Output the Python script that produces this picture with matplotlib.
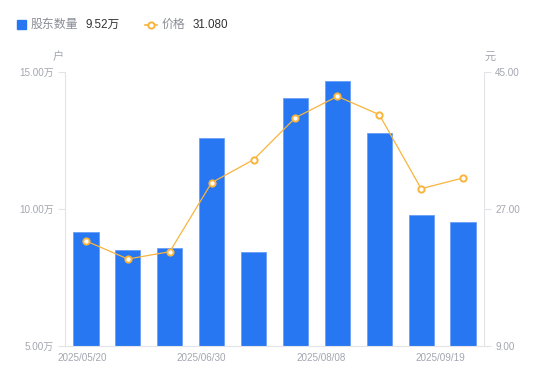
import matplotlib
matplotlib.use('Agg')
import matplotlib.pyplot as plt
import numpy as np

plt.rcParams['font.family'] = ['Liberation Sans', 'Noto Sans CJK SC', 'DejaVu Sans']

# data
holders = [9.16, 8.50, 8.57, 12.59, 8.42, 14.04, 14.67, 12.76, 9.77, 9.52]   # 万户
price = [22.8, 20.43, 21.39, 30.46, 33.48, 39.0, 41.8, 39.4, 29.67, 31.08]  # 元
xlabels = ['2025/05/20', '2025/06/30', '2025/08/08', '2025/09/19']
left_ticks = [5, 10, 15]
right_ticks = [9, 27, 45]

blue = '#2777f2'
orange = '#f9b43c'
grey = '#a3a6b0'
axcol = '#e3e4e8'

fig = plt.figure(figsize=(5.5, 3.81), dpi=100)
ax = fig.add_axes([65/550, 1 - 346/381, (484-65)/550, (346-72)/381])
x = np.arange(len(holders))
ax.bar(x, holders, width=0.6, color=blue, edgecolor='#6a9ff5', linewidth=0.6, zorder=2)
ax.set_xlim(-0.5, len(holders) - 0.5)
ax.set_ylim(5, 15)
ax.set_yticks(left_ticks)
ax.set_yticklabels(['%.2f万' % v for v in left_ticks])

ax2 = ax.twinx()
ax2.plot(x, price, color=orange, lw=0.9, marker='o', ms=4.5, mfc='white', mec=orange, mew=1.4, zorder=3)
ax2.set_ylim(9, 45)
ax2.set_yticks(right_ticks)
ax2.set_yticklabels(['%.2f' % v for v in right_ticks])

ax.set_xticks(np.linspace(-0.08, 8.45, 4))
ax.set_xticklabels(xlabels)

for a in (ax, ax2):
    for s in a.spines.values():
        s.set_visible(False)
    a.tick_params(colors=grey, labelsize=7.1, length=5, width=0.8, color=axcol)
ax.spines['left'].set_visible(True)
ax.spines['bottom'].set_visible(True)
ax2.spines['right'].set_visible(True)
ax.spines['left'].set_color(axcol)
ax.spines['bottom'].set_color(axcol)
ax2.spines['right'].set_color(axcol)
ax.tick_params(axis='x', length=0, pad=5)
ax.tick_params(axis='y', pad=3)
ax2.tick_params(axis='y', pad=3)

fig.text(58/550, 1 - 57/381, '户', color=grey, fontsize=8, ha='center', va='center')
fig.text(490/550, 1 - 57/381, '元', color=grey, fontsize=8, ha='center', va='center')

# legend
fig.patches.append(plt.Rectangle((17/550, 1 - 29/381), 9/550, 9/381, transform=fig.transFigure,
                                 color=blue, figure=fig))
fig.text(31/550, 1 - 25/381, '股东数量', color='#8a8d96', fontsize=8.6, va='center')
fig.text(85/550, 1 - 25/381, '%.2f万' % holders[-1], color='#333333', fontsize=8.4, va='center')
fig.lines.append(plt.Line2D([145/550, 157/550], [1 - 25/381, 1 - 25/381], transform=fig.transFigure,
                            color=orange, lw=1.2))
fig.lines.append(plt.Line2D([151/550], [1 - 25/381], transform=fig.transFigure, color=orange,
                            marker='o', ms=4.5, mfc='white', mec=orange, mew=1.4))
fig.text(162/550, 1 - 25/381, '价格', color='#8a8d96', fontsize=8.6, va='center')
fig.text(193/550, 1 - 25/381, '%.3f' % price[-1], color='#333333', fontsize=8.4, va='center')

fig.savefig('out.png', dpi=100)
